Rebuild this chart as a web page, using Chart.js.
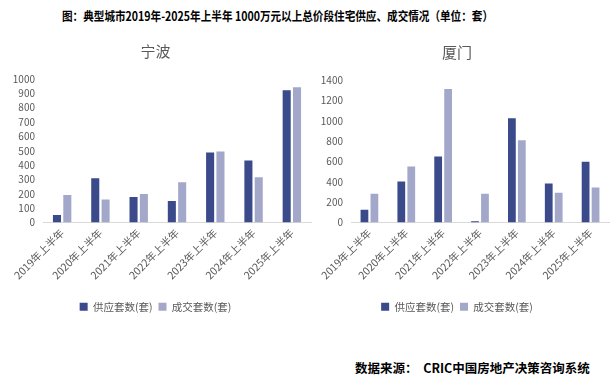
<!DOCTYPE html>
<html><head><meta charset="utf-8">
<script src="https://cdn.jsdelivr.net/npm/chart.js@4/dist/chart.umd.min.js"></script>
<style>
html,body{margin:0;padding:0;background:#fff;width:616px;height:383px;overflow:hidden;position:relative;font-family:"Noto Sans CJK SC","Noto Sans",sans-serif;}
#title{position:absolute;left:62px;top:6px;font-weight:bold;font-size:12.5px;color:#000;white-space:nowrap;transform-origin:0 0;}
#src{position:absolute;left:355px;top:358px;font-weight:bold;font-size:12.5px;color:#000;white-space:pre;}
.cw{position:absolute;}
</style></head><body>
<div id="title">图：典型城市2019年-2025年上半年 1000万元以上总价段住宅供应、成交情况（单位：套）</div>
<div class="cw" style="left:0;top:36px;width:318px;height:290px;"><canvas id="c1"></canvas></div>
<div class="cw" style="left:305px;top:36px;width:311px;height:290px;"><canvas id="c2"></canvas></div>
<div id="src">数据来源：  CRIC中国房地产决策咨询系统</div>
<script>
const categories = ["2019年上半年","2020年上半年","2021年上半年","2022年上半年","2023年上半年","2024年上半年","2025年上半年"];
const seriesNames = ["供应套数(套)","成交套数(套)"];
const ningboSupply = [53, 308, 177, 149, 487, 432, 922];
const ningboDeal   = [191, 161, 198, 280, 494, 315, 943];
const xiamenSupply = [125, 402, 649, 13, 1024, 382, 596];
const xiamenDeal   = [283, 550, 1311, 283, 807, 293, 343];
const ningboTicks = {max:1000, step:100};
const xiamenTicks = {max:1400, step:200};

// fit the heading to the reference width
(function(){ const t = document.getElementById('title'); const w = t.getBoundingClientRect().width; t.style.transform = 'scaleX(' + (431 / w) + ')'; })();

const DARK = "#3A4A8B", LIGHT = "#A3A8CA", GRAY = "#595959";
const FONT = "'Noto Sans CJK SC', 'Noto Sans', sans-serif";

function makeChart(id, title, supply, deal, ticks, yWidth, xHeight, titleTop, titleBottom) {
  return new Chart(document.getElementById(id), {
    type: 'bar',
    data: {
      labels: categories,
      datasets: [
        {label: seriesNames[0], data: supply, backgroundColor: DARK, categoryPercentage: 0.54, barPercentage: 0.78},
        {label: seriesNames[1], data: deal, backgroundColor: LIGHT, categoryPercentage: 0.54, barPercentage: 0.78}
      ]
    },
    options: {
      responsive: true, maintainAspectRatio: false, animation: false,
      layout: {padding: {left: 0, right: 7, top: 0, bottom: 4}},
      plugins: {
        title: {display: true, text: title, color: GRAY, font: {family: FONT, size: 15, weight: 'normal'}, padding: {top: titleTop, bottom: titleBottom}},
        legend: {position: 'bottom', labels: {color: GRAY, font: {family: FONT, size: 10.5}, boxWidth: 8, boxHeight: 8, padding: 6}},
        tooltip: {enabled: false}
      },
      scales: {
        x: {
          grid: {display: false, drawTicks: false},
          border: {display: true, color: "#D9D9D9", width: 1},
          ticks: {color: GRAY, font: {family: FONT, size: 10.5}, minRotation: 45, maxRotation: 45, padding: 4, autoSkip: false},
          afterFit: s => { s.height = xHeight; }
        },
        y: {
          min: 0, max: ticks.max,
          grid: {display: false, drawTicks: false},
          border: {display: false},
          ticks: {stepSize: ticks.step, autoSkip: false, color: GRAY, font: {family: FONT, size: 10}, padding: 8, callback: v => String(v)},
          afterFit: s => { s.width = yWidth; }
        }
      }
    }
  });
}
makeChart('c1', '宁波', ningboSupply, ningboDeal, ningboTicks, 43, 73, 6, 19);
makeChart('c2', '厦门', xiamenSupply, xiamenDeal, xiamenTicks, 46, 73, 7, 19);
</script>
</body></html>
